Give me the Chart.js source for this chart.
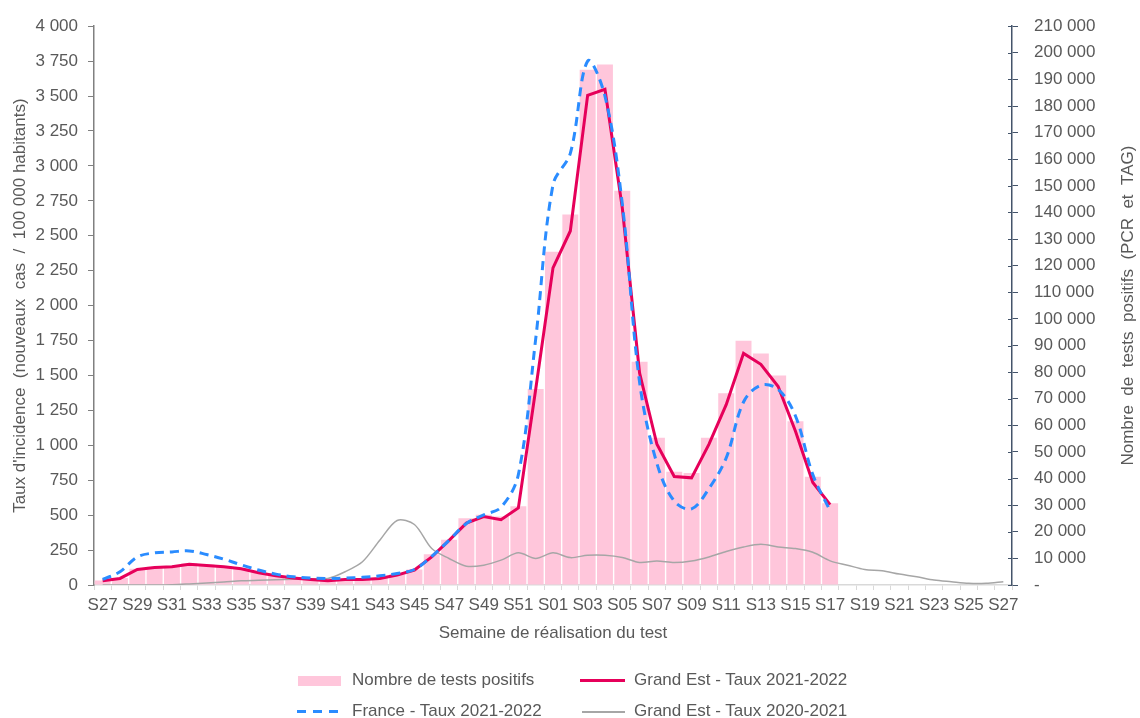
<!DOCTYPE html>
<html lang="fr">
<head>
<meta charset="utf-8" />
<title>Taux d'incidence Grand Est</title>
<script src="https://cdn.jsdelivr.net/npm/chart.js"></script>
<style>
  body { margin: 0; background: #fff; font-family: "Liberation Sans", Arial, sans-serif; }
  #wrap { position: relative; width: 1140px; height: 718px; }
  .lg { position: absolute; font-size: 17px; color: #595959; line-height: 20px; white-space: nowrap; }
  .sw { position: absolute; }
</style>
</head>
<body>
<div id="wrap">
  <canvas id="chart" width="1140" height="718"></canvas>
  <!-- legend -->
  <div class="sw" style="left:298px; top:676px; width:43px; height:10px; background:rgb(255,198,219);"></div>
  <div class="lg" style="left:352px; top:670px;">Nombre de tests positifs</div>
  <div class="sw" style="left:580px; top:679px; width:45px; height:3px; background:#E6005A;"></div>
  <div class="lg" style="left:634px; top:670px;">Grand Est - Taux 2021-2022</div>
  <div class="sw" style="left:297px; top:710px; width:44px; height:3px; background:repeating-linear-gradient(90deg,#2A8CFF 0 9px,transparent 9px 16px);"></div>
  <div class="lg" style="left:352px; top:701px;">France - Taux 2021-2022</div>
  <div class="sw" style="left:582px; top:711px; width:43px; height:1.5px; background:#A6A6A6;"></div>
  <div class="lg" style="left:634px; top:701px;">Grand Est - Taux 2020-2021</div>
</div>
<script>
const weeks = ['S27','S28','S29','S30','S31','S32','S33','S34','S35','S36','S37','S38','S39','S40',
  'S41','S42','S43','S44','S45','S46','S47','S48','S49','S50','S51','S52',
  'S01','S02','S03','S04','S05','S06','S07','S08','S09','S10','S11','S12','S13','S14','S15','S16','S17',
  'S18','S19','S20','S21','S22','S23','S24','S25','S26','S27'];

// nombre de tests positifs Grand Est (axe de droite)
const testsPositifs = [1700, 2600, 6100, 6900, 7100, 8200, 7700, 7100, 6400, 4800, 3600, 2800, 2200, 1700,
  2200, 2200, 2600, 3900, 5800, 11600, 17000, 25100, 26400, 25700, 29600, 73700,
  125200, 139200, 193600, 195600, 148200, 83900, 55300, 42600, 42100, 55300, 72100, 91800, 87000, 78700, 61500, 40700, 30700];

// taux d'incidence (axe de gauche)
const grandEst2122 = [31, 47, 111, 126, 130, 149, 140, 130, 116, 88, 66, 50, 40, 31,
  40, 40, 47, 71, 107, 201, 320, 443, 490, 467, 552, 1400,
  2270, 2534, 3505, 3548, 2700, 1516, 1007, 777, 767, 1007, 1291, 1658, 1580, 1421, 1101, 734, 575];

const france2122 = [40, 95, 201, 230, 237, 244, 218, 185, 144, 107, 78, 59, 50, 47,
  50, 55, 66, 83, 111, 205, 320, 440, 502, 556, 790, 1760,
  2865, 3090, 3750, 3500, 2730, 1450, 870, 600, 545, 690, 910, 1310, 1430, 1400, 1210, 790, 530];

const grandEst2021 = [0, 0, 0, 0, 2, 8, 15, 22, 30, 34, 38, 42, 45, 47,
  95, 166, 320, 462, 433, 261, 190, 135, 142, 178, 230, 190,
  230, 196, 213, 213, 197, 161, 172, 161, 172, 201, 240, 272, 291, 272, 261, 234, 173,
  142, 111, 102, 78, 59, 35, 23, 12, 12, 23];

const leftTicks = { min: 0, max: 4000, step: 250 };
const rightTicks = { min: 0, max: 210000, step: 10000 };

const fontFam = '"Liberation Sans", Arial, sans-serif';
const txt = '#595959';

function spaced(v) {
  return String(v).replace(/\B(?=(\d{3})+(?!\d))/g, ' ');
}

// titres d'axes + petits traits internes de l'axe de droite
const extras = {
  id: 'extras',
  afterDraw(chart) {
    const { ctx, chartArea } = chart;
    const y2 = chart.scales.y2;
    ctx.save();
    ctx.strokeStyle = '#44546A';
    ctx.lineWidth = 1;
    y2.ticks.forEach(t => {
      const py = Math.round(y2.getPixelForValue(t.value)) + 0.5;
      ctx.beginPath();
      ctx.moveTo(chartArea.right - 4, py);
      ctx.lineTo(chartArea.right, py);
      ctx.stroke();
    });
    ctx.fillStyle = txt;
    ctx.font = '17px ' + fontFam;
    ctx.textAlign = 'center';
    ctx.textBaseline = 'middle';
    const cy = (chartArea.top + chartArea.bottom) / 2;
    ctx.fillText('Semaine de réalisation du test', (chartArea.left + chartArea.right) / 2, 633);
    ctx.save();
    ctx.translate(20.5, cy);
    ctx.rotate(-Math.PI / 2);
    ctx.fillText("Taux d'incidence  (nouveaux  cas  /  100 000 habitants)", 0, 0);
    ctx.restore();
    ctx.save();
    ctx.translate(1128, cy);
    ctx.rotate(-Math.PI / 2);
    ctx.fillText('Nombre  de  tests  positifs  (PCR  et  TAG)', 0, 0);
    ctx.restore();
    ctx.restore();
  }
};

new Chart(document.getElementById('chart'), {
  type: 'bar',
  data: {
    labels: weeks,
    datasets: [
      {
        type: 'line', label: 'France - Taux 2021-2022', data: france2122, yAxisID: 'y',
        borderColor: '#2A8CFF', borderWidth: 3, borderDash: [9, 6], pointRadius: 0,
        tension: 0.35, fill: false, order: 1
      },
      {
        type: 'line', label: 'Grand Est - Taux 2021-2022', data: grandEst2122, yAxisID: 'y',
        borderColor: '#E6005A', borderWidth: 3, pointRadius: 0, tension: 0, fill: false, order: 2
      },
      {
        type: 'line', label: 'Grand Est - Taux 2020-2021', data: grandEst2021, yAxisID: 'y',
        borderColor: '#A6A6A6', borderWidth: 1.5, pointRadius: 0, tension: 0.3, fill: false, order: 3
      },
      {
        type: 'bar', label: 'Nombre de tests positifs', data: testsPositifs, yAxisID: 'y2',
        backgroundColor: 'rgb(255,198,219)', barPercentage: 0.92, categoryPercentage: 1, order: 4
      }
    ]
  },
  options: {
    responsive: false,
    animation: false,
    devicePixelRatio: 1,
    layout: { padding: { top: 22, left: 0, right: 0, bottom: 0 } },
    plugins: { legend: { display: false }, tooltip: { enabled: false } },
    scales: {
      x: {
        afterFit: s => { s.height = 133; },
        grid: { drawOnChartArea: false, color: '#D9D9D9', tickLength: 5, offset: true },
        border: { color: '#D9D9D9', width: 1.5 },
        ticks: {
          autoSkip: false, maxRotation: 0, minRotation: 0, padding: 5,
          color: txt, font: { family: fontFam, size: 17 },
          callback: (v, i) => (i % 2 === 0 ? weeks[i] : '')
        }
      },
      y: {
        position: 'left',
        min: leftTicks.min, max: leftTicks.max,
        afterFit: s => { s.width = 94; },
        grid: { drawOnChartArea: false, color: '#808080', tickLength: 6 },
        border: { color: '#808080', width: 1.5 },
        ticks: {
          stepSize: leftTicks.step, padding: 10, color: txt, font: { family: fontFam, size: 17 },
          callback: v => spaced(v)
        }
      },
      y2: {
        position: 'right',
        min: rightTicks.min, max: rightTicks.max,
        afterFit: s => { s.width = 128; },
        grid: { drawOnChartArea: false, color: '#44546A', tickLength: 6 },
        border: { color: '#44546A', width: 1.5 },
        ticks: {
          stepSize: rightTicks.step, padding: 16, color: txt, font: { family: fontFam, size: 17 },
          callback: v => (v === 0 ? '-' : spaced(v))
        }
      }
    }
  },
  plugins: [extras]
});
</script>
</body>
</html>
